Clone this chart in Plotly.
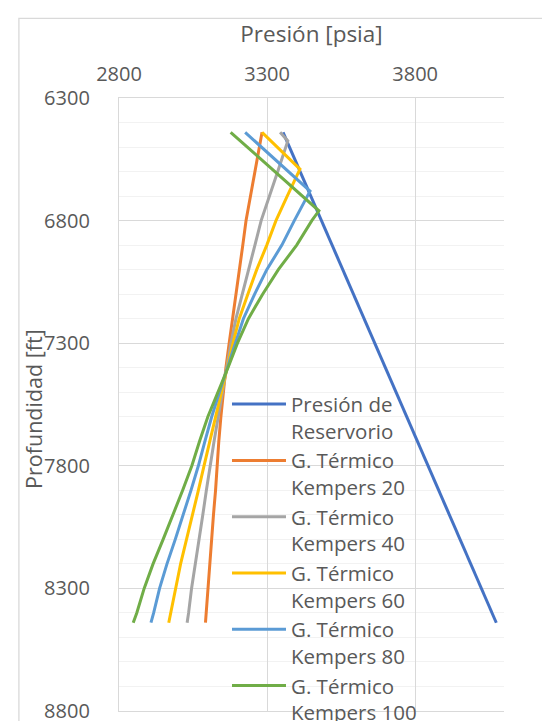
import plotly.graph_objects as go

# Presión de reservorio (línea recta)
depth_res = [6440, 8440]
p_res = [3354, 4074]

# Gradientes térmicos Kempers
depth_k20 = [6440, 6500, 6600, 6700, 6800, 6900, 7000, 7100, 7200, 7300, 7400,
             7500, 7600, 7700, 7800, 7900, 8000, 8100, 8200, 8300, 8400, 8440]
p_k20 = [3283, 3274, 3259, 3244, 3229, 3218, 3206, 3194, 3183, 3172, 3161,
         3152, 3144, 3137, 3132, 3126, 3119, 3113, 3107, 3100, 3094, 3092]

depth_k40 = [6440, 6475, 6600, 6700, 6800, 6900, 7000, 7100, 7200, 7300, 7400,
             7500, 7600, 7700, 7800, 7900, 8000, 8100, 8200, 8300, 8400, 8440]
p_k40 = [3344, 3370, 3336, 3307, 3280, 3259, 3237, 3216, 3195, 3178, 3163,
         3149, 3135, 3121, 3107, 3095, 3083, 3070, 3057, 3045, 3035, 3030]

depth_k60 = [6440, 6590, 6700, 6800, 6900, 7000, 7100, 7200, 7300, 7400,
             7500, 7600, 7700, 7800, 7900, 8000, 8100, 8200, 8300, 8400, 8440]
p_k60 = [3283, 3411, 3368, 3330, 3299, 3265, 3235, 3206, 3185, 3165,
         3145, 3126, 3106, 3087, 3068, 3049, 3028, 3008, 2991, 2975, 2968]

depth_k80 = [6440, 6680, 6800, 6900, 7000, 7100, 7200, 7300, 7400,
             7500, 7600, 7700, 7800, 7900, 8000, 8100, 8200, 8300, 8400, 8440]
p_k80 = [3226, 3445, 3392, 3350, 3299, 3258, 3220, 3192, 3166,
         3139, 3113, 3090, 3068, 3043, 3017, 2990, 2962, 2937, 2917, 2908]

depth_k100 = [6440, 6760, 6800, 6900, 7000, 7100, 7200, 7300, 7400,
              7500, 7600, 7700, 7800, 7900, 8000, 8100, 8200, 8300, 8400, 8440]
p_k100 = [3177, 3475, 3451, 3400, 3338, 3285, 3237, 3200, 3168,
          3134, 3100, 3072, 3046, 3015, 2983, 2949, 2915, 2885, 2860, 2848]

series = [
    ("Presión de<br>Reservorio", p_res, depth_res, "#4472C4"),
    ("G. Térmico<br>Kempers 20", p_k20, depth_k20, "#ED7D31"),
    ("G. Térmico<br>Kempers 40", p_k40, depth_k40, "#A5A5A5"),
    ("G. Térmico<br>Kempers 60", p_k60, depth_k60, "#FFC000"),
    ("G. Térmico<br>Kempers 80", p_k80, depth_k80, "#5B9BD5"),
    ("G. Térmico<br>Kempers 100", p_k100, depth_k100, "#70AD47"),
]

FONT = "Open Sans"
TXT = "#595959"
GRID = "#D9D9D9"

fig = go.Figure()
for name, x, y, color in series:
    fig.add_trace(go.Scatter(x=x, y=y, name=name, mode="lines",
                             line=dict(color=color, width=3)))

fig.update_xaxes(
    side="top", range=[2800, 4100], tick0=2800, dtick=500,
    showgrid=True, gridcolor=GRID, gridwidth=1.3, zeroline=False,
    showline=True, linecolor=GRID, linewidth=1.3, mirror=True,
    ticks="", ticklabelstandoff=8,
    tickfont=dict(family=FONT, size=20, color=TXT),
    title=dict(text="Presión [psia]", standoff=10,
               font=dict(family=FONT, size=22.5, color=TXT)),
)
fig.update_yaxes(
    range=[8800, 6300], tick0=6300, dtick=500,
    showgrid=True, gridcolor=GRID, gridwidth=1.3, zeroline=False,
    showline=True, linecolor=GRID, linewidth=1.3,
    ticks="", ticklabelstandoff=24,
    minor=dict(dtick=100, showgrid=True, gridcolor="#F2F2F2", gridwidth=1.3),
    tickfont=dict(family=FONT, size=20, color=TXT),
)

fig.update_layout(
    width=550, height=721,
    margin=dict(l=111, r=54, t=90, b=18, autoexpand=False),
    paper_bgcolor="white", plot_bgcolor="white",
    font=dict(family=FONT, size=20.5, color=TXT),
    legend=dict(x=0.2805, y=0.533, xanchor="left", yanchor="top",
                bgcolor="rgba(0,0,0,0)", valign="top", tracegroupgap=0,
                itemwidth=54,
                font=dict(family=FONT, size=20.5, color=TXT), maxheight=1000),
    annotations=[dict(text="Profundidad [ft]", textangle=-90, showarrow=False,
                      xref="paper", yref="paper", x=-0.222, y=0.492,
                      xanchor="center", yanchor="middle",
                      font=dict(family=FONT, size=21.5, color=TXT))],
    shapes=[dict(type="rect", xref="paper", yref="paper",
                 x0=-0.26, x1=1.2, y0=-0.1, y1=1.13,
                 line=dict(color=GRID, width=1.3), layer="below")],
)

fig.write_html("out.html")
